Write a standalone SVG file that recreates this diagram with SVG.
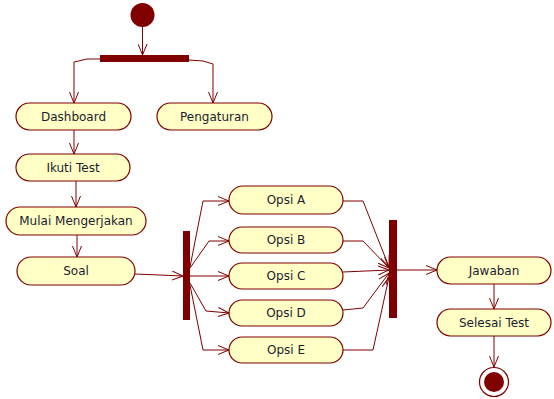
<svg xmlns="http://www.w3.org/2000/svg" width="554" height="399" viewBox="0 0 554 399">
<defs>
<marker id="arr" viewBox="0 0 12 10" refX="11" refY="5" markerWidth="12" markerHeight="10" markerUnits="userSpaceOnUse" orient="auto">
<path d="M0,0.5 L11,5 L0,9.5" fill="none" stroke="#800000" stroke-width="1"/>
</marker>
<style>
.n rect{fill:#ffffc6;stroke:#800000;stroke-width:1.2}
.n text{font-family:"DejaVu Sans",sans-serif;font-size:12px;fill:#1c1c30;text-anchor:middle;dominant-baseline:central}
.e{fill:none;stroke:#800000;stroke-width:1;marker-end:url(#arr)}
.bar{fill:#800000}
</style>
</defs>
<rect width="554" height="399" fill="#fff"/>
<g id="start"><circle cx="142.5" cy="15" r="12" fill="#800000"/></g>
<g id="fork1"><rect class="bar" x="100" y="55" width="89" height="7"/></g>
<g id="dashboard" class="n"><rect x="16" y="103" width="115" height="27" rx="13.5"/><text x="73.5" y="116.5">Dashboard</text></g>
<g id="pengaturan" class="n"><rect x="157" y="103" width="115" height="27" rx="13.5"/><text x="214.5" y="116.5">Pengaturan</text></g>
<g id="ikuti" class="n"><rect x="16" y="154" width="114" height="27" rx="13.5"/><text x="73" y="167.5">Ikuti Test</text></g>
<g id="mulai" class="n"><rect x="6" y="207" width="140" height="28" rx="14"/><text x="76" y="221">Mulai Mengerjakan</text></g>
<g id="soal" class="n"><rect x="17" y="257" width="118" height="28" rx="14"/><text x="76" y="271">Soal</text></g>
<g id="fork2"><rect class="bar" x="183" y="231" width="7" height="89"/></g>
<g id="opsiA" class="n"><rect x="229" y="186" width="114" height="28" rx="14"/><text x="286" y="200">Opsi A</text></g>
<g id="opsiB" class="n"><rect x="229" y="227" width="114" height="26" rx="13"/><text x="286" y="240">Opsi B</text></g>
<g id="opsiC" class="n"><rect x="229" y="263" width="114" height="26" rx="13"/><text x="286" y="276">Opsi C</text></g>
<g id="opsiD" class="n"><rect x="229" y="300" width="114" height="26" rx="13"/><text x="286" y="313">Opsi D</text></g>
<g id="opsiE" class="n"><rect x="229" y="337" width="114" height="26" rx="13"/><text x="286" y="350">Opsi E</text></g>
<g id="join"><rect class="bar" x="389" y="220" width="8" height="98"/></g>
<g id="jawaban" class="n"><rect x="437" y="257" width="114" height="27" rx="13.5"/><text x="494" y="270.5">Jawaban</text></g>
<g id="selesai" class="n"><rect x="437" y="309" width="114" height="27" rx="13.5"/><text x="494" y="322.5">Selesai Test</text></g>
<g id="end"><circle cx="494" cy="382" r="14.5" fill="#fff" stroke="#800000" stroke-width="1.2"/><circle cx="494" cy="382" r="10" fill="#800000"/></g>
<g id="connectors">
<path class="e" d="M142.5,27 L142.5,55"/>
<path class="e" d="M100,59 L87,59 L74,62 L74,103"/>
<path class="e" d="M189,60 L203,61 L213,64 L213,103"/>
<path class="e" d="M74,130 L74,154"/>
<path class="e" d="M76,181 L76,207"/>
<path class="e" d="M77,235 L77,257"/>
<path class="e" d="M135,274 L160,275 L183,276"/>
<path class="e" d="M190,267 L203,201 L229,201"/>
<path class="e" d="M190,268 L209,241 L229,241"/>
<path class="e" d="M190,276 L229,276"/>
<path class="e" d="M190,283 L206,311 L229,313"/>
<path class="e" d="M190,285 L203,350 L229,350"/>
<path class="e" d="M343,201 L363,201 L389,267"/>
<path class="e" d="M343,241 L363,241 L389,268"/>
<path class="e" d="M343,272 L389,270"/>
<path class="e" d="M343,310 L363,308 L389,273"/>
<path class="e" d="M343,350 L373,350 L389,277"/>
<path class="e" d="M397,270 L437,270"/>
<path class="e" d="M494,284 L494,309"/>
<path class="e" d="M494,336 L494,367"/>
</g>
</svg>
